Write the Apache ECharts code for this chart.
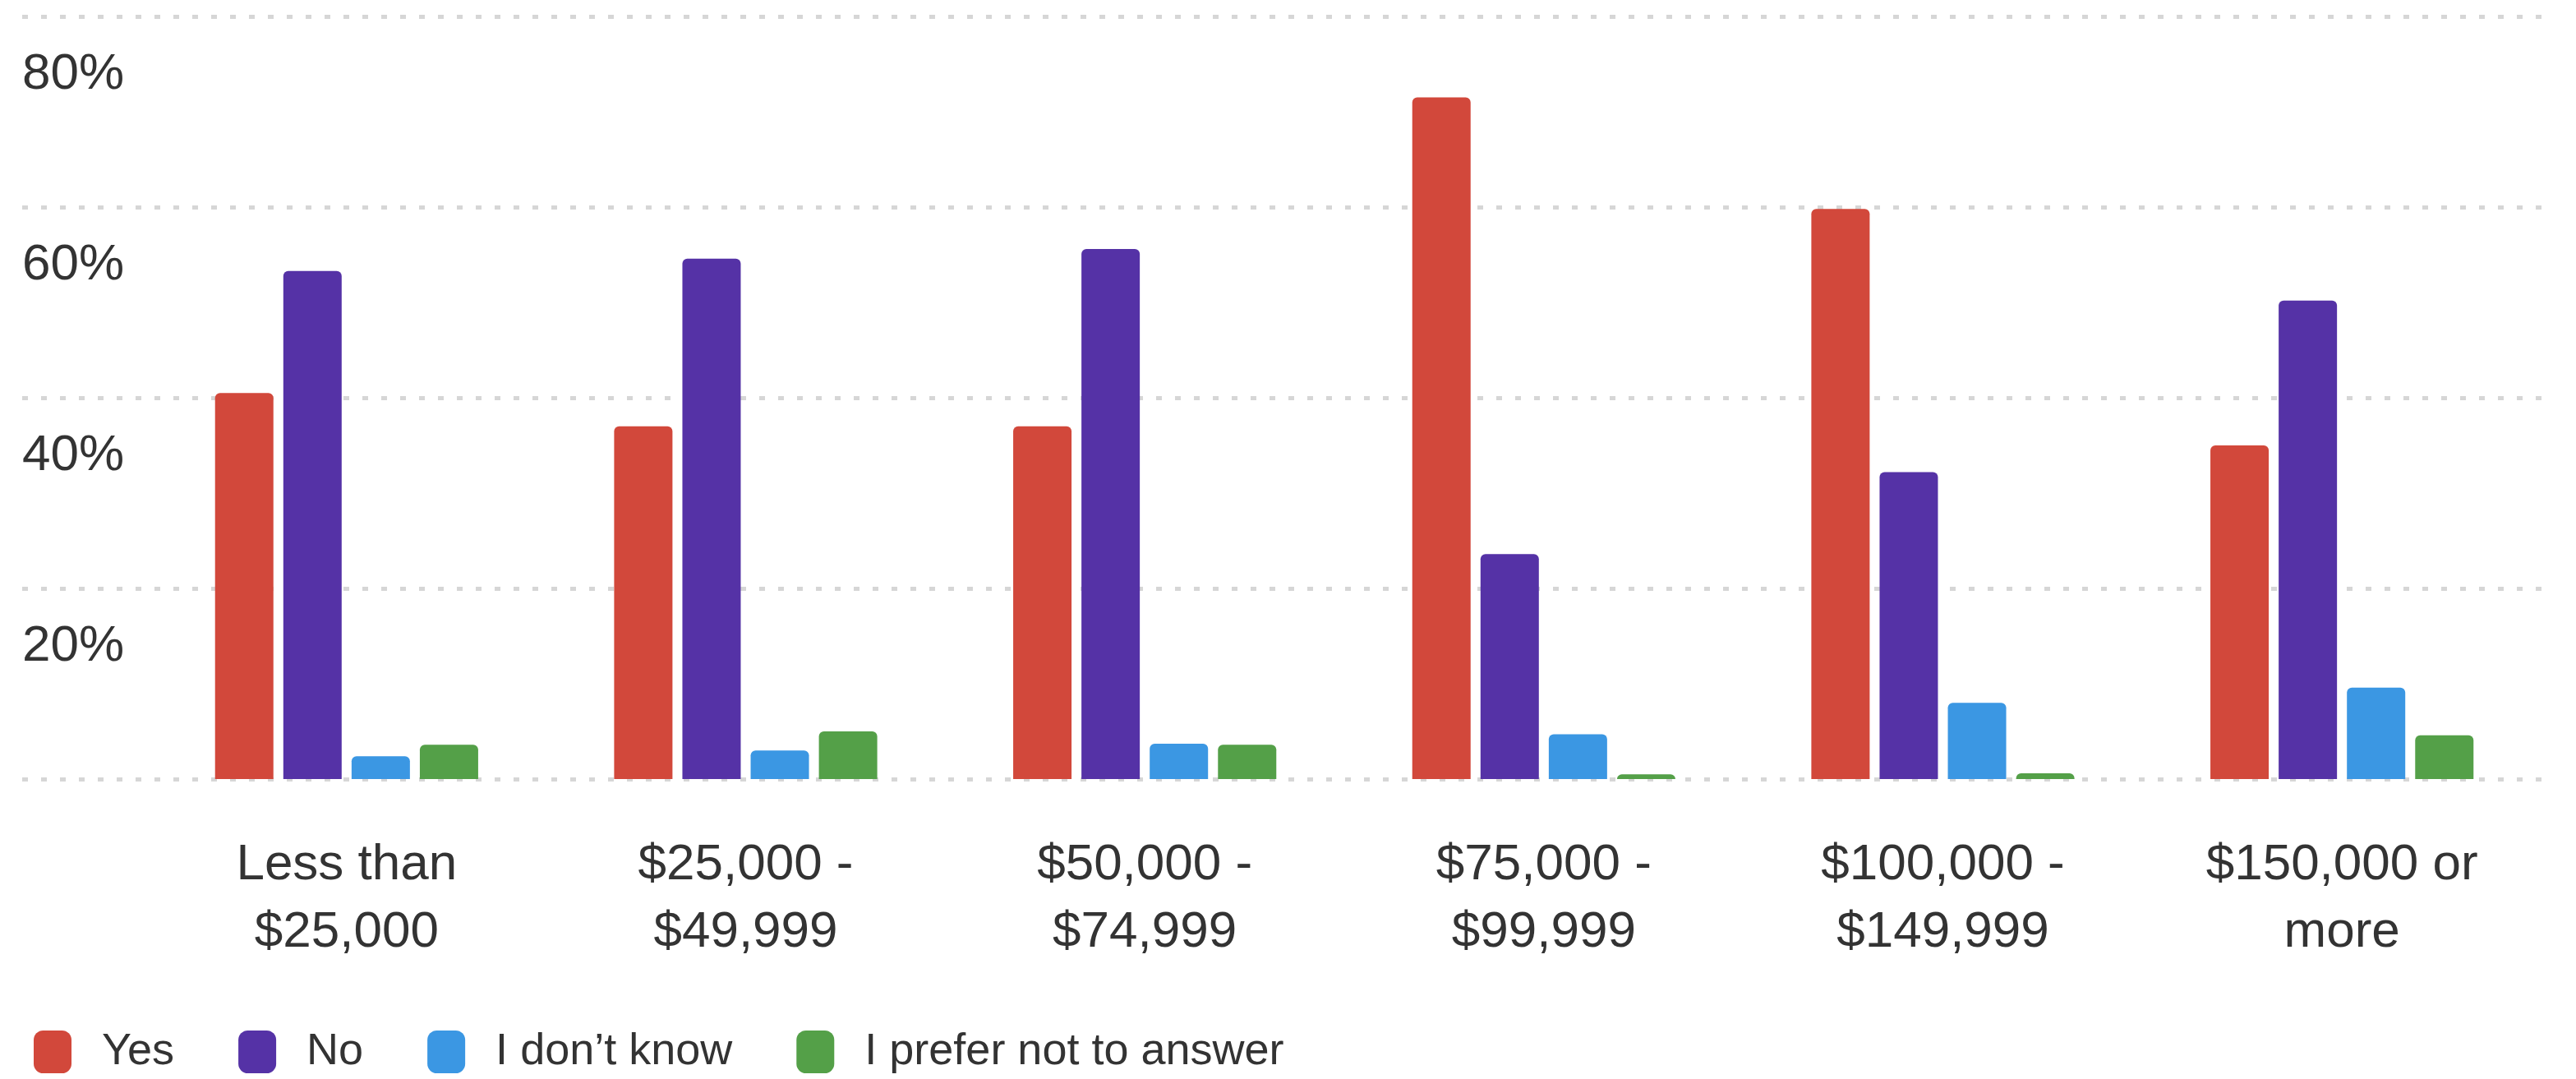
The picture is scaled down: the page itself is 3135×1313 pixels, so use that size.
<!DOCTYPE html>
<html>
<head>
<meta charset="utf-8">
<script src="https://cdn.jsdelivr.net/npm/echarts@6/dist/echarts.min.js"></script>
<style>
    html, body { margin: 0; padding: 0; background: #fff; }
    #chart { width: 3135px; height: 1313px; }
</style>
</head>
<body>
<div id="chart"></div>
<script>
// 收入分组
var categories = ['Less than\n$25,000', '$25,000 -\n$49,999', '$50,000 -\n$74,999', '$75,000 -\n$99,999', '$100,000 -\n$149,999', '$150,000 or\nmore'];
// 每组百分比
var yesData = [40.5, 37.0, 37.0, 71.5, 59.8, 35.0];
var noData = [53.3, 54.6, 55.6, 23.6, 32.2, 50.2];
var dontKnowData = [2.4, 3.0, 3.7, 4.7, 8.0, 9.6];
var noAnswerData = [3.6, 5.0, 3.6, 0.5, 0.6, 4.6];
var yTicks = [0, 20, 40, 60, 80];

var font = "'Liberation Sans', Arial, Helvetica, sans-serif";
var gridTop = 20, gridBottom = 365;

var mychart = echarts.init(document.getElementById('chart'));
var option = {
    backgroundColor: '#ffffff',
    animation: false,
    textStyle: { fontFamily: font },
    legend: {
        data: ['Yes', 'No', "I don\u2019t know", 'I prefer not to answer'],
        left: 36,
        top: 1248,
        icon: 'roundRect',
        itemWidth: 46,
        itemHeight: 52,
        itemGap: 78,
        textStyle: {
            fontFamily: font,
            fontSize: 54,
            color: '#333',
            padding: [0, 0, 0, 32]
        }
    },
    grid: [
        // 柱子用的 grid
        { left: 179, right: 42, top: gridTop, bottom: gridBottom, outerBoundsMode: 'none' },
        // 网格线和 y 轴文字，往左延伸到标签下面
        { left: 27, right: 38, top: gridTop, bottom: gridBottom, outerBoundsMode: 'none' }
    ],
    xAxis: [
        {
            type: 'category',
            gridIndex: 0,
            data: categories,
            axisLine: { show: false },
            axisTick: { show: false },
            axisLabel: {
                margin: 64,
                fontSize: 62,
                lineHeight: 82,
                color: '#333',
                fontFamily: font
            }
        },
        {
            type: 'value',
            gridIndex: 1,
            show: false
        }
    ],
    yAxis: [
        {
            type: 'value',
            gridIndex: 0,
            min: 0,
            max: yTicks[yTicks.length - 1],
            interval: 20,
            show: false
        },
        {
            type: 'value',
            gridIndex: 1,
            min: 0,
            max: yTicks[yTicks.length - 1],
            interval: 20,
            axisLine: { show: false },
            axisTick: { show: false },
            splitLine: {
                show: true,
                lineStyle: {
                    color: '#d6d6d6',
                    width: 5,
                    type: [7, 16] //点状网格线
                }
            },
            axisLabel: {
                inside: true,
                margin: 0,
                fontSize: 62,
                color: '#333',
                fontFamily: font,
                align: 'left',
                verticalAlign: 'top',
                lineHeight: 142, //文字放在网格线下面
                formatter: function (v) {
                    return v === 0 ? '' : v + '%';
                }
            }
        }
    ],
    series: [
        {
            name: 'Yes',
            type: 'bar',
            barWidth: 71,
            barGap: '17%',
            itemStyle: { color: '#d2483b', borderRadius: [6, 6, 0, 0] },
            data: yesData
        },
        {
            name: 'No',
            type: 'bar',
            barWidth: 71,
            barGap: '17%',
            itemStyle: { color: '#5532a6', borderRadius: [6, 6, 0, 0] },
            data: noData
        },
        {
            name: "I don\u2019t know",
            type: 'bar',
            barWidth: 71,
            barGap: '17%',
            itemStyle: { color: '#3b97e3', borderRadius: [6, 6, 0, 0] },
            data: dontKnowData
        },
        {
            name: 'I prefer not to answer',
            type: 'bar',
            barWidth: 71,
            barGap: '17%',
            itemStyle: { color: '#54a048', borderRadius: [6, 6, 0, 0] },
            data: noAnswerData
        }
    ]
};
mychart.setOption(option);
window.addEventListener('resize', function () {
    mychart.resize();
});
</script>
</body>
</html>
